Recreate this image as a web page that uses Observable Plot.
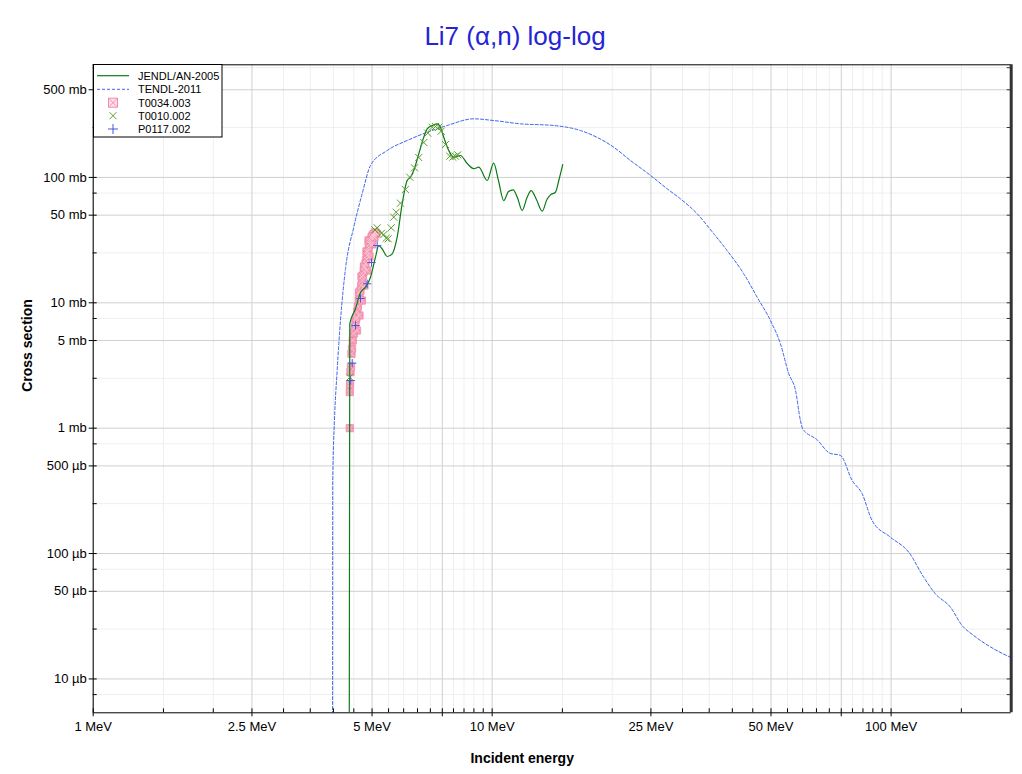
<!DOCTYPE html>
<html>
<head>
<meta charset="utf-8">
<script src="https://cdn.jsdelivr.net/npm/d3@7"></script>
<script src="https://cdn.jsdelivr.net/npm/@observablehq/plot@0.6"></script>
<style>
  body { margin: 0; background: #fff; font-family: "Liberation Sans", Arial, sans-serif; }
  #wrap { position: relative; width: 1022px; height: 774px; overflow: hidden; background: #fff; }
  #title { position: absolute; left: 4px; top: 20px; width: 1022px; text-align: center;
           font-size: 26px; line-height: 32px; color: #2424d4; }
  #chart { position: absolute; left: 0; top: 50px; }
  #legend { position: absolute; left: 93px; top: 64px; }
</style>
</head>
<body>
<div id="wrap">
  <div id="title">Li7 (α,n) log-log</div>
  <div id="chart"></div>
  <svg id="legend" width="130" height="74"></svg>
</div>
<script>
// Li-7 (alpha,n) cross section: energies in MeV, cross sections in mb.

// JENDL/AN-2005 evaluation
const jendlE  = [4.377, 4.397, 4.544, 4.677, 4.814, 4.955, 5.10, 5.197, 5.300, 5.456, 5.616, 5.780, 5.949,
                 6.124, 6.241, 6.361, 6.547, 6.739, 6.873, 7.073, 7.281, 7.420, 7.563, 7.785, 8.013, 8.328,
                 8.659, 8.995, 9.257, 9.716, 10.09, 10.37, 10.69, 10.99, 11.29, 11.57, 11.89, 12.23, 12.52,
                 12.91, 13.35, 13.72, 14.0, 14.41, 14.69, 15.03];
const jendlXS = [0.0001, 6.80, 8.96, 12.08, 13.32, 16.0, 23.1, 28.6, 26.9, 23.4, 24.6, 33.4, 61.6,
                 94.5, 100.4, 113.5, 154.2, 209.3, 244.2, 259.4, 267.6, 251.3, 209.3, 163.9, 144.9, 149.5,
                 129.1, 117.4, 120.6, 94.5, 129.8, 94.5, 65.4, 77.2, 79.6, 69.1, 54.5, 69.1, 78.6,
                 66.7, 53.8, 66.7, 72.6, 76.2, 94.5, 126.7];

// TENDL-2011 evaluation
const tendlE  = [3.98, 3.985, 4.025, 4.088, 4.167, 4.29, 4.499, 4.722, 4.955, 5.456, 6.124, 6.873, 7.714,
                 8.995, 10.09, 11.78, 14.27, 16.65, 20.17, 22.22, 24.97, 27.46, 29.65, 32.65, 35.94, 38.81,
                 42.72, 46.16, 49.83, 52.8, 55.4, 57.6, 59.25, 60.03, 65.24, 70.19, 74.65, 79.87, 84.6,
                 89.6, 99.6, 110.7, 120.7, 129.1, 140.8, 150.6, 161.1, 180.7, 200];
const tendlXS = [0.0001, 0.383, 1.152, 2.885, 7.22, 18.77, 40.1, 74.0, 124.4, 163.9, 197.0, 229.3, 259.4,
                 293.3, 284.2, 267.6, 259.4, 236.6, 174.1, 136.4, 103.5, 81.1, 67.5, 51.3, 35.5, 26.1,
                 17.03, 11.08, 7.22, 4.71, 2.716, 2.0, 1.152, 0.989, 0.808, 0.632, 0.606, 0.383, 0.300,
                 0.1837, 0.1351, 0.1026, 0.0648, 0.0478, 0.0374, 0.0267, 0.0222, 0.0174, 0.0148];

// EXFOR T0034.003
const t0034E  = [4.397, 4.397, 4.402, 4.415, 4.427, 4.440, 4.453, 4.473, 4.499, 4.523, 4.544, 4.556, 4.565,
                 4.588, 4.609, 4.63, 4.636, 4.654, 4.677, 4.698, 4.704, 4.722, 4.745, 4.768, 4.772, 4.792,
                 4.814, 4.836, 4.842, 4.862, 4.883, 4.898, 4.907, 4.932, 4.955, 4.984, 5.012, 5.048, 5.055, 5.085,
                 4.583, 4.65, 4.717, 4.786, 4.857, 4.927, 4.998, 5.07, 5.129];
const t0034XS = [1.0, 1.94, 2.23, 2.80, 3.10, 3.92, 4.32, 5.01, 5.69, 6.35, 6.96, 7.49, 7.63,
                 8.52, 9.34, 10.43, 12.08, 11.44, 12.53, 13.74, 16.2, 15.06, 16.51, 17.77, 19.48, 19.12,
                 20.58, 22.14, 25.66, 23.84, 25.66, 31.4, 27.6, 29.7, 31.4, 33.2, 34.4, 35.5, 33.8, 36.4,
                 6.01, 7.92, 10.43, 13.74, 18.1, 23.4, 29.2, 33.2, 35.7];

// EXFOR T0010.002
const t0010E  = [4.397, 5.08, 5.15, 5.28, 5.35, 5.425, 5.488, 5.583, 5.667, 5.746, 5.89, 6.06, 6.215,
                 6.388, 6.547, 6.739, 6.897, 7.073, 7.209, 7.348, 7.45, 7.638, 7.83, 7.97, 8.09, 8.2];
const t0010XS = [2.55, 38.2, 39.6, 35.9, 35.0, 32.7, 32.4, 39.6, 48.2, 52.8, 62.3, 80.1, 100.4,
                 119.3, 144.1, 189.8, 225.2, 251.3, 254.6, 251.3, 233.6, 183.0, 147.6, 144.9, 147.6, 151.4];

// EXFOR P0117.002
const p0117E  = [4.42, 4.459, 4.544, 4.677, 4.861, 4.984, 5.15];
const p0117XS = [2.40, 3.30, 6.59, 10.82, 14.18, 20.96, 28.6];

// Axis ticks and labels
const xLabelVals = [1, 2.5, 5, 10, 25, 50, 100];
const xLabelText = ["1 MeV", "2.5 MeV", "5 MeV", "10 MeV", "25 MeV", "50 MeV", "100 MeV"];
const xMajor = [1, 2.5, 5, 7.5, 10, 25, 50, 75, 100];
const xMinor = [1.5, 2, 3, 3.5, 4, 4.5, 5.5, 6, 6.5, 7, 8, 8.5, 9, 9.5,
                15, 20, 30, 35, 40, 45, 55, 60, 65, 70, 80, 85, 90, 95, 150];
const yLabelVals = [500, 100, 50, 10, 5, 1, 0.5, 0.1, 0.05, 0.01];
const yLabelText = ["500 mb", "100 mb", "50 mb", "10 mb", "5 mb", "1 mb", "500 µb", "100 µb", "50 µb", "10 µb"];
const yMinor = [750, 250, 75, 25, 7.5, 2.5, 0.75, 0.25, 0.075, 0.025, 0.0075];

const legendNames = ["JENDL/AN-2005", "TENDL-2011", "T0034.003", "T0010.002", "P0117.002"];

const zip = (E, S) => E.map((e, i) => ({e, xs: S[i]}));
const jendl = zip(jendlE, jendlXS);
const tendl = zip(tendlE, tendlXS);
const t0034 = zip(t0034E, t0034XS);
const t0010 = zip(t0010E, t0010XS);
const p0117 = zip(p0117E, p0117XS);
const xLabels = xLabelVals.map((v, i) => ({v, t: xLabelText[i]}));
const yLabels = yLabelVals.map((v, i) => ({v, t: yLabelText[i]}));

const C = {
  jendl: "#0b7a16",
  tendl: "#3d63e8",
  pink: "#f28aa9",
  pinkFill: "#f598b3",
  green: "#5c9e2e",
  blue: "#4657d8"
};

const yAll = [...yLabelVals, ...yMinor];
const blank = () => "";
const font = "'Liberation Sans', Arial, sans-serif";

const chart = Plot.plot({
  width: 1022,
  height: 724,
  marginTop: 14.3,
  marginBottom: 61.7,
  marginLeft: 92.7,
  marginRight: 11.3,
  x: {type: "log", domain: [1, 200], label: null},
  y: {type: "log", domain: [0.00537, 791], label: null},
  style: {fontFamily: font, fontSize: "13px", color: "#000", background: "#fff"},
  marks: [
    // grid
    Plot.ruleX(xMinor, {stroke: "#efefef"}),
    Plot.ruleY(yMinor, {stroke: "#efefef"}),
    Plot.ruleX(xMajor, {stroke: "#d0d0d0"}),
    Plot.ruleY(yLabelVals, {stroke: "#d0d0d0"}),

    // evaluations and measurements
    Plot.line(tendl, {x: "e", y: "xs", stroke: C.tendl, strokeWidth: 1, strokeDasharray: "3,2", curve: "monotone-x", clip: true}),
    Plot.dot(t0034, {x: "e", y: "xs", symbol: "square", r: 4.1, fill: C.pinkFill, stroke: C.pink, strokeWidth: 0.8, clip: true}),
    Plot.dot(t0034, {x: "e", y: "xs", symbol: "times", r: 2.6, stroke: "#fbcfdc", strokeWidth: 0.7, clip: true}),
    Plot.line(jendl, {x: "e", y: "xs", stroke: C.jendl, strokeWidth: 1.2, curve: "monotone-x", clip: true}),
    Plot.dot(t0010, {x: "e", y: "xs", symbol: "times", r: 3.3, stroke: C.green, strokeWidth: 1, clip: true}),
    Plot.dot(p0117, {x: "e", y: "xs", symbol: "plus", r: 2.8, stroke: C.blue, strokeWidth: 1, clip: true}),

    // frame
    Plot.ruleY([791], {stroke: "#000"}),
    Plot.ruleY([0.00537], {stroke: "#000"}),
    Plot.ruleX([1], {stroke: "#000"}),
    Plot.ruleX([200], {stroke: "#333", strokeWidth: 3}),

    // tick marks
    Plot.axisX({ticks: xMajor, tickSize: 4, tickFormat: blank, label: null}),
    Plot.axisX({ticks: xMajor, tickSize: -4, tickFormat: blank, label: null}),
    Plot.axisX({ticks: xMinor, tickSize: -4, tickFormat: blank, label: null}),
    Plot.axisY({ticks: yLabelVals, tickSize: 4, tickFormat: blank, label: null}),
    Plot.axisY({ticks: yAll, tickSize: -4, tickFormat: blank, label: null}),
    Plot.axisY({anchor: "right", ticks: yAll, tickSize: -5, tickFormat: blank, label: null, stroke: "#333"}),

    // tick labels
    Plot.text(xLabels, {x: "v", text: "t", frameAnchor: "bottom", dy: 18, fontSize: 13}),
    Plot.text(yLabels, {y: "v", text: "t", frameAnchor: "left", dx: -6.5, textAnchor: "end", fontSize: 13}),

    // axis titles
    Plot.text(["Incident energy"], {frameAnchor: "bottom", dx: -30, dy: 50, fontWeight: "bold", fontSize: 14}),
    Plot.text(["Cross section"], {frameAnchor: "left", dx: -65.7, dy: 3, rotate: -90, fontWeight: "bold", fontSize: 14})
  ]
});
document.getElementById("chart").appendChild(chart);

// legend box
const lg = d3.select("#legend");
lg.append("rect").attr("x", 0.5).attr("y", 0.5).attr("width", 128.5).attr("height", 72.5)
  .attr("fill", "#fff").attr("stroke", "#000");
const rowY = [11.7, 25.3, 38.7, 51.7, 65];
lg.selectAll("text").data(legendNames).join("text")
  .attr("x", 45).attr("y", (d, i) => rowY[i]).attr("dy", "0.35em")
  .attr("font-family", font).attr("font-size", 11)
  .text(d => d);
lg.append("line").attr("x1", 4).attr("x2", 36).attr("y1", rowY[0]).attr("y2", rowY[0])
  .attr("stroke", C.jendl).attr("stroke-width", 1.2);
lg.append("line").attr("x1", 4).attr("x2", 36).attr("y1", rowY[1]).attr("y2", rowY[1])
  .attr("stroke", C.tendl).attr("stroke-dasharray", "3,2");
const pk = lg.append("g").attr("transform", `translate(20,${rowY[2]})`);
pk.append("rect").attr("x", -4.5).attr("y", -4.5).attr("width", 9).attr("height", 9)
  .attr("fill", "#fde1e9").attr("stroke", C.pink);
pk.append("path").attr("d", "M-4,-4L4,4M-4,4L4,-4").attr("stroke", C.pink).attr("stroke-width", 0.9);
lg.append("path").attr("transform", `translate(20,${rowY[3]})`)
  .attr("d", "M-3.5,-3.5L3.5,3.5M-3.5,3.5L3.5,-3.5").attr("stroke", C.green).attr("fill", "none");
lg.append("path").attr("transform", `translate(20,${rowY[4]})`)
  .attr("d", "M-5,0L5,0M0,-5L0,5").attr("stroke", C.blue).attr("fill", "none");
</script>
</body>
</html>
